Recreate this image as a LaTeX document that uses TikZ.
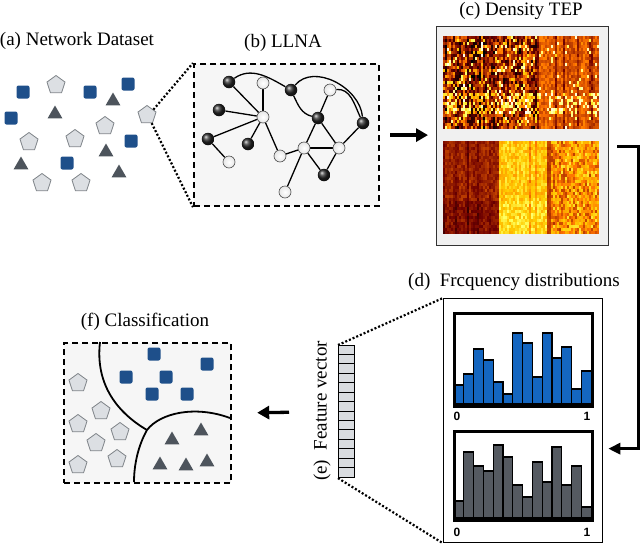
\documentclass[tikz,border=0pt]{standalone}
\usepackage{fontspec}
\setmainfont{Liberation Serif}
\newfontfamily\digitfont{Liberation Sans}
\usetikzlibrary{shapes.geometric,arrows.meta,backgrounds,calc}
\definecolor{sqblue}{HTML}{1E4F8A}
\definecolor{pentfill}{HTML}{DCDFE3}
\definecolor{pentdraw}{HTML}{7E8388}
\definecolor{tridark}{HTML}{4D545C}
\definecolor{boxfill}{HTML}{F6F6F6}
\definecolor{histblue}{HTML}{1466C0}
\definecolor{histgray}{HTML}{555A61}
\definecolor{vecfill}{HTML}{D9DCE0}
\newcommand\hotcell[5]{%
 \pgfmathsetmacro\hr{min(1,max(0,2*(#5)))}%
 \pgfmathsetmacro\hg{min(1,max(0,1.6*(#5)-0.35))}%
 \pgfmathsetmacro\hb{min(1,max(0,2.8*(#5)-2.0))}%
 \definecolor{hc}{rgb}{\hr,\hg,\hb}%
 \fill[hc] (#1,-#2) rectangle ++(#3,-#4);}
\tikzset{
 sq/.style={rectangle, rounded corners=2, fill=sqblue, minimum size=13, inner sep=0},
 pent/.style={regular polygon, regular polygon sides=5, fill=pentfill, draw=pentdraw, line width=0.8, minimum size=19, inner sep=0},
 tri/.style={regular polygon, regular polygon sides=3, fill=tridark, minimum size=17, inner sep=0},
 dnode/.style={circle, minimum size=12.5, inner sep=0, shading=ball, ball color=black!85},
 lnode/.style={circle, minimum size=12, inner sep=0, draw=black!70, line width=0.6, inner color=white, outer color=black!10},
 llnaedge/.style={line width=1.3, black},
 lbl/.style={font=\fontsize{19}{22}\selectfont, inner sep=0},
 dashbox/.style={draw, line width=2.2, dash pattern=on 6 off 4, fill=boxfill, inner sep=0},
 dotline/.style={line width=2.2, dash pattern=on 2 off 2},
 bigarrow/.style={line width=3.3, -{Triangle[length=12,width=13]}},
 elbow/.style={line width=3, -{Triangle[length=12,width=11]}},
 bar/.style={draw=black, line width=1.1},
 digit/.style={font=\digitfont\bfseries\fontsize{12}{13}\selectfont, inner sep=0},
}
\begin{document}
\begin{tikzpicture}[x=1pt,y=1pt]
\useasboundingbox (0,0) rectangle (640,-544);
% ---------- (a) dataset
\node[lbl] (la) at (77,-41) {(a) Network Dataset};
\foreach \x/\y [count=\k] in {23/92,90/92,128/84,11/118,131/141,67/163}
  \node[sq] (asq\k) at (\x,-\y) {};
\foreach \x/\y [count=\k] in {56/85,105/126,29/142,75/139,42/183,81/183}
  \node[pent] (apt\k) at (\x,-\y) {};
\node[pent] (ptarget) at (147,-115) {};
\foreach \x/\y [count=\k] in {113/101,55/114,106/152,21/165,119/173}
  \node[tri] (atr\k) at (\x,-\y) {};
% ---------- (b) LLNA
\node[lbl] (lb) at (283,-43) {(b) LLNA};
\begin{scope}[on background layer]
\node[dashbox, minimum width=185, minimum height=142, anchor=north west] (llna) at (193,-63) {};
\end{scope}
\node[dnode] (d1) at (229,-82) {};
\node[dnode] (d2) at (219,-110) {};
\node[dnode] (d3) at (208,-139) {};
\node[dnode] (d4) at (248,-144) {};
\node[dnode] (d5) at (291,-90) {};
\node[dnode] (d6) at (318,-118) {};
\node[dnode] (d7) at (363,-123) {};
\node[dnode] (d8) at (324,-175) {};
\node[lnode] (l1) at (263,-83) {};
\node[lnode] (l2) at (263,-117) {};
\node[lnode] (l3) at (229,-162) {};
\node[lnode] (l4) at (280,-156) {};
\node[lnode] (l5) at (304,-148) {};
\node[lnode] (l6) at (339,-148) {};
\node[lnode] (l7) at (330,-90) {};
\node[lnode] (l8) at (285,-192) {};
\begin{scope}[on background layer]
\draw[llnaedge] (d1) -- (l2);
\draw[llnaedge] (l1) -- (l2);
\draw[llnaedge] (d2) -- (l2);
\draw[llnaedge] (d3) -- (l2);
\draw[llnaedge] (d4) -- (l2);
\draw[llnaedge] (l2) -- (l4);
\draw[llnaedge] (d3) -- (l3);
\draw[llnaedge] (l4) -- (l5);
\draw[llnaedge] (l5) -- (l6);
\draw[llnaedge] (d6) -- (l5);
\draw[llnaedge] (d6) -- (l6);
\draw[llnaedge] (d6) -- (l7);
\draw[llnaedge] (l5) -- (d8);
\draw[llnaedge] (l6) -- (d8);
\draw[llnaedge] (l6) -- (d7);
\draw[llnaedge] (l5) -- (l8);
\draw[llnaedge] (d1) to[out=35,in=150] (d5);
\draw[llnaedge] (d5) to[out=50,in=95] (d7);
\draw[llnaedge] (d5) to[out=-65,in=165] (d6);
\draw[llnaedge] (l7) to[out=5,in=115] (d7);
\end{scope}
\draw[dotline] (ptarget.40) -- (llna.north west);
\draw[dotline] (ptarget.-60) -- (llna.south west);
% ---------- (c) Density TEP
\node[lbl] (lc) at (521,-11) {(c) Density TEP};
\node[draw=black!80, line width=1.3, fill=black!6, minimum width=172, minimum height=219, anchor=north west, inner sep=0] (tep) at (436,-26) {};
\pgfmathsetseed{11}
\foreach \i in {0,...,77}{
  \pgfmathsetmacro\xx{443+2*\i}
  \pgfmathsetmacro\base{\i<47 ? 0.16+0.2*rnd+(rnd<0.1 ? 0.25 : 0) : 0.4+0.08*rnd+(rnd<0.15 ? 0.25 : 0)-(rnd<0.12 ? 0.15 : 0)}
  \pgfmathsetmacro\spk{\i<47 ? 0.17 : 0.05}
  \pgfmathsetmacro\nz{\i<47 ? 0.42 : 0.18}
  \foreach \j in {0,...,30}{
    \pgfmathsetmacro\yy{36+3*\j}
    \pgfmathsetmacro\sp{\j>18 && \j<26 ? \spk+0.3 : \spk}
    \pgfmathsetmacro\vv{\base+\nz*(rnd-0.5)+(rnd<\sp ? 0.5 : 0)}
    \hotcell{\xx}{\yy}{2.1}{3.1}{\vv}
  }
}
\foreach \i in {0,...,77}{
  \pgfmathsetmacro\xx{443+2*\i}
  \pgfmathsetmacro\base{\i<28 ? 0.28+0.05*rnd-(rnd<0.2 ? 0.08 : 0) : (\i<52 ? 0.68+0.05*rnd-(rnd<0.2 ? 0.13 : 0) : (\i<54 ? 0.36 : 0.55+0.04*rnd))}
  \pgfmathsetmacro\nz{\i<28 ? 0.12 : (\i<52 ? 0.2 : (\i<54 ? 0.08 : 0.42))}
  \foreach \j in {0,...,30}{
    \pgfmathsetmacro\yy{141+3*\j}
    \pgfmathsetmacro\vv{\base+\nz*(rnd-0.5)+(\j>19 ? (\i<28 ? -0.05 : (\i<52 ? 0.05 : 0)) : 0)}
    \hotcell{\xx}{\yy}{2.1}{3.1}{\vv}
  }
}
\draw[bigarrow, shorten <=10, shorten >=8] (llna.east) -- (tep.west |- llna.east);
\coordinate (tepout) at (617,-146);
\coordinate (elbowc) at (638,-146);
% ---------- (d) frequency distributions
\node[lbl, anchor=west] (ld) at (408,-282) {(d)\ \ Frcquency distributions};
\node[draw=black, line width=1.3, fill=white, minimum width=159, minimum height=244, anchor=north west, inner sep=0] (freq) at (443,-298) {};
\draw[elbow] (tepout) -- (elbowc) |- ($(freq.east)+(5,-28)$);
\foreach \t [count=\k from 0] in {385,374,349,360,382,394,333,343,377,333,358,347,389,371}
  \draw[bar, fill=histblue] (454+9.8*\k,-404) rectangle (454+9.8*\k+9.8,-\t);
\node[draw=black, line width=2.6, minimum width=138, minimum height=93, anchor=north west, inner sep=0] (hp1) at (453,-312) {};
\foreach \t [count=\k from 0] in {501,452,466,471,445,457,485,497,462,482,447,485,466,507}
  \draw[bar, fill=histgray] (454+9.8*\k,-518) rectangle (454+9.8*\k+9.8,-\t);
\node[draw=black, line width=2.6, minimum width=138, minimum height=89, anchor=north west, inner sep=0] (hp2) at (453,-430) {};
\node[digit] (z1) at (457,-416) {0};
\node[digit] (o1) at (587,-416) {1};
\node[digit] (z2) at (457,-532) {0};
\node[digit] (o2) at (587,-532) {1};
% ---------- (e) feature vector
\node[draw=black, line width=1.1, fill=vecfill, minimum width=16, minimum height=132, anchor=north west, inner sep=0] (vec) at (338,-345) {};
\foreach \k in {1,...,13}
  \draw[line width=0.9] (338,-345-9.43*\k) -- (354,-345-9.43*\k);
\node[lbl, rotate=90] (le) at (322,-411) {(e)\ \ Feature vector};
\draw[dotline] (vec.north west) -- (freq.north west);
\draw[dotline] (vec.south west) -- (freq.south west);
% ---------- (f) classification
\node[lbl] (lf) at (145,-322) {(f) Classification};
\node[dashbox, minimum width=167, minimum height=140, anchor=north west] (cls) at (63,-342) {};
\coordinate (ctop) at (100,-342);
\coordinate (cjun) at (147,-430);
\coordinate (cright) at (230,-418);
\coordinate (cbot) at (134,-482);
\draw[line width=1.8] (ctop) .. controls (95,-385) and (118,-413) .. (cjun);
\draw[line width=1.8] (cjun) .. controls (160,-413) and (195,-405) .. (cright);
\draw[line width=1.8] (cjun) .. controls (138,-446) and (134,-465) .. (cbot);
\foreach \x/\y [count=\k] in {154/354,207/364,126/377,166/377,152/394,187/394}
  \node[sq] (fsq\k) at (\x,-\y) {};
\foreach \x/\y [count=\k] in {78/383,101/411,78/424,120/432,96/443,117/459,78/465}
  \node[pent] (fpt\k) at (\x,-\y) {};
\foreach \x/\y [count=\k] in {172/440,201/431,160/465,186/466,207/462}
  \node[tri] (ftr\k) at (\x,-\y) {};
\draw[bigarrow, shorten <=49, shorten >=25] (vec.west) -- (cls.east);
\end{tikzpicture}
\end{document}
